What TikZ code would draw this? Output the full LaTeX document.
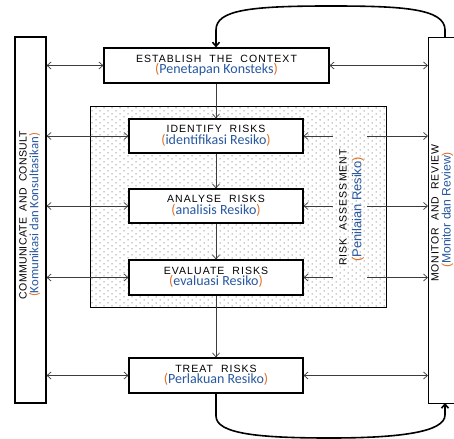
\documentclass[tikz,border=0pt]{standalone}
\usepackage{fontspec}
\setmainfont{Liberation Sans}
\newfontfamily\capsfont[LetterSpace=10,WordSpace=2]{Liberation Sans}
\newfontfamily\lcapsfont[LetterSpace=3,WordSpace=2]{Liberation Sans}
\newfontfamily\rcapsfont[LetterSpace=7,WordSpace=2]{Liberation Sans}
\newfontfamily\subfont{Carlito}
\usetikzlibrary{arrows.meta,patterns}
\definecolor{myblue}{RGB}{40,88,160}
\definecolor{myorange}{RGB}{226,108,30}
\definecolor{lncol}{RGB}{60,60,60}
\newcommand\ptxt[1]{{\color{myorange}(}{\color{myblue}#1}{\color{myorange})}}
\newcommand\capline[1]{{\capsfont\fontsize{10.5}{14}\selectfont #1}}
\newcommand\subline[1]{{\subfont\fontsize{14}{14}\selectfont\ptxt{#1}}}
\pgfdeclarepatternformonly{sdots}{\pgfqpoint{-1pt}{-1pt}}{\pgfqpoint{8pt}{6pt}}{\pgfqpoint{8pt}{6pt}}{%
  \pgfpathcircle{\pgfqpoint{0pt}{0pt}}{0.5pt}%
  \pgfpathcircle{\pgfqpoint{4pt}{3pt}}{0.5pt}%
  \pgfusepath{fill}}
\begin{document}
\begin{tikzpicture}[x=1pt,y=-1pt,
  stepbox/.style={draw=black,line width=1.1pt,fill=white,minimum width=174pt,minimum height=34pt,inner sep=0pt,align=center},
  bar/.style={draw=black,line width=1.1pt,fill=white,inner sep=0pt},
  lbl/.style={rotate=90,inner sep=0pt},
  dbl/.style={draw=lncol,line width=0.7pt,{Straight Barb[length=4pt,width=7pt]}-{Straight Barb[length=4pt,width=7pt]}},
  arr/.style={draw=lncol,line width=0.7pt,-{Straight Barb[length=4pt,width=7pt]}},
  larr/.style={draw=lncol,line width=0.7pt,{Straight Barb[length=4pt,width=7pt]}-},
  loop/.style={draw=black,line width=1.6pt,-{Straight Barb[length=4pt,width=7pt]}},
]
\useasboundingbox (0,0) rectangle (454,438);
\clip (0,0) rectangle (454,438);
\fill[white] (0,0) rectangle (454,438);
% dotted risk assessment region
\node[draw=black,line width=1pt,pattern=sdots,pattern color=black!85,minimum width=296pt,minimum height=200pt,inner sep=0pt] (ra) at (238,207) {};
% side bars
\node[bar,minimum width=31pt,minimum height=366pt] (lbar) at (30.5,220) {};
\node[bar,minimum width=52pt,minimum height=366pt,anchor=north west] (rbar) at (428,37) {};
% steps
\node[stepbox,minimum width=225pt,minimum height=35pt] (ctx) at (216.5,65.5)
  {\capline{ESTABLISH THE CONTEXT}\\[-0.5pt]\subline{Penetapan Konsteks}};
\node[stepbox] (idf) at (216,136)
  {\capline{IDENTIFY RISKS}\\[-0.5pt]\subline{identifikasi Resiko}};
\node[stepbox] (ana) at (216,206)
  {\capline{ANALYSE RISKS}\\[-0.5pt]\subline{analisis Resiko}};
\node[stepbox,minimum height=35pt] (eva) at (216,277.5)
  {\capline{EVALUATE RISKS}\\[-0.5pt]\subline{evaluasi Resiko}};
\node[stepbox,minimum height=35pt] (trt) at (216,375.5)
  {\capline{TREAT RISKS}\\[-0.5pt]\subline{Perlakuan Resiko}};
% bar labels
\node[lbl] (lbl1) at (23,215) {\lcapsfont\fontsize{10.5}{12}\selectfont COMMUNICATE AND CONSULT};
\node[lbl] (lbl2) at (34.5,215) {\subfont\fontsize{12.8}{13}\selectfont\ptxt{Komunikasi dan Konsultasikan}};
\node[lbl] (rlbl1) at (435,213) {\rcapsfont\fontsize{10.5}{12}\selectfont MONITOR AND REVIEW};
\node[lbl] (rlbl2) at (447.5,210) {\fontsize{12.2}{13}\selectfont\ptxt{Monitor dan Review}};
\node[lbl] (ralbl1) at (343,207.5) {\capsfont\fontsize{10.5}{12}\selectfont RISK ASSESSMENT};
\node[lbl] (ralbl2) at (358,209.5) {\fontsize{12.9}{13}\selectfont\ptxt{Penilaian Resiko}};
% gap coordinates
\coordinate (gl) at (333,0);
\coordinate (gr) at (367,0);
% left double arrows
\foreach \n in {ctx,idf,ana,eva,trt}{
  \draw[dbl] (lbar.east |- \n.west) -- (\n.west);
}
\draw[dbl] (ctx.east) -- (ctx.east -| rbar.west);
\draw[dbl] (trt.east) -- (trt.east -| rbar.west);
\foreach \n in {idf,ana,eva}{
  \draw[larr] (\n.east) -- (\n.east -| gl);
  \draw[arr] (\n.east -| gr) -- (\n.east -| rbar.west);
}
% vertical flow
\draw[arr] (ctx.south -| idf.north) -- (idf.north);
\draw[arr] (idf.south) -- (ana.north);
\draw[arr] (ana.south) -- (eva.north);
\draw[arr] (eva.south) -- (trt.north);
% feedback loops
\coordinate (rt) at (445,37);
\coordinate (rb) at (445,403);
\draw[loop] (rt) -- (445,30) .. controls (445,8) and (400,6) .. (330,6)
  .. controls (250,6) and (216,10) .. (216,30) -- (ctx.north -| idf.north);
\draw[loop] (trt.south) -- (216,416) .. controls (216,434) and (260,438) .. (330,438)
  .. controls (400,438) and (445,432) .. (445,415) -- (rb);
\end{tikzpicture}
\end{document}
